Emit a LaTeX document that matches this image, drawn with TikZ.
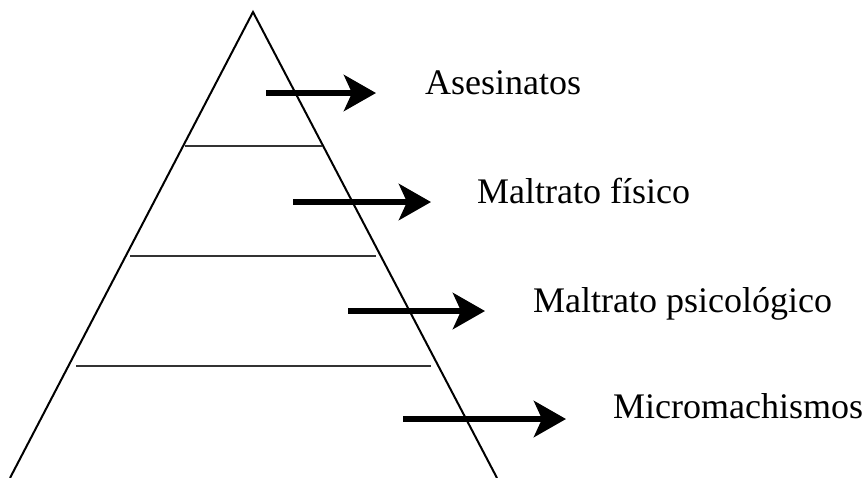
\documentclass[tikz,border=0pt]{standalone}
\usepackage{fontspec}
\setmainfont{Liberation Serif}
\usetikzlibrary{arrows.meta}
\begin{document}
\begin{tikzpicture}[x=1pt,y=-1pt,
  side/.style={line width=2pt,black,line join=miter},
  level/.style={line width=2pt,black!80},
  bigarrow/.style={line width=6pt,-{Stealth[length=32pt,width=36pt,inset=8pt]}},
  label/.style={anchor=base west,inner sep=0pt,font=\fontsize{36}{40}\selectfont}]
\useasboundingbox (0,0) rectangle (867,477);
\clip (0,0) rectangle (867,477);
\coordinate (apex) at (253,12);
\coordinate (bl) at (10,478);
\coordinate (br) at (497,478);
\draw[side] (bl) -- (apex) -- (br);
\coordinate (l1a) at (185,146); \coordinate (l1b) at (322,146);
\coordinate (l2a) at (130,256); \coordinate (l2b) at (376,256);
\coordinate (l3a) at (76,366);  \coordinate (l3b) at (431,366);
\draw[level] (l1a) -- (l1b);
\draw[level] (l2a) -- (l2b);
\draw[level] (l3a) -- (l3b);
\coordinate (s1) at (266,93);  \coordinate (e1) at (376,93);
\coordinate (s2) at (293,202); \coordinate (e2) at (431,202);
\coordinate (s3) at (348,311); \coordinate (e3) at (485,311);
\coordinate (s4) at (403,419); \coordinate (e4) at (566,419);
\draw[bigarrow] (s1) -- (e1);
\draw[bigarrow] (s2) -- (e2);
\draw[bigarrow] (s3) -- (e3);
\draw[bigarrow] (s4) -- (e4);
\node[label] (t1) at (425,94) {Asesinatos};
\node[label] (t2) at (477,203) {Maltrato físico};
\node[label] (t3) at (533,312) {Maltrato psicológico};
\node[label] (t4) at (613,418) {Micromachismos};
\end{tikzpicture}
\end{document}
